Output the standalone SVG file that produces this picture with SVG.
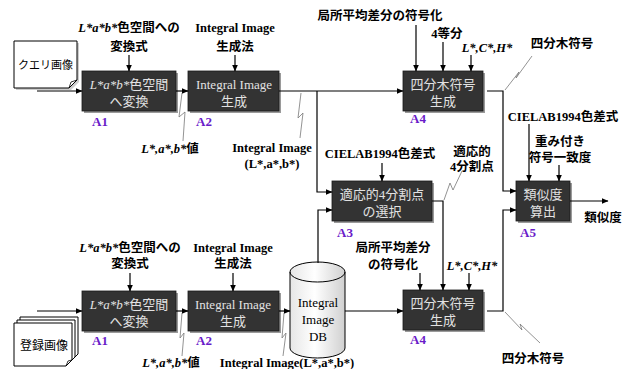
<svg xmlns="http://www.w3.org/2000/svg" width="631" height="369" viewBox="0 0 631 369">
<defs>
<marker id="ah" markerWidth="7" markerHeight="6" refX="6.5" refY="3" orient="auto" markerUnits="userSpaceOnUse">
<path d="M0,0 L7,3 L0,6 Z" fill="#000"/>
</marker>
<linearGradient id="cyl" x1="0" y1="0" x2="1" y2="0">
<stop offset="0" stop-color="#e6e6e6"/>
<stop offset="0.45" stop-color="#ffffff"/>
<stop offset="1" stop-color="#d0d0d0"/>
</linearGradient>
</defs>
<style>
text{font-family:"Liberation Serif","Noto Sans CJK JP",serif;}
.lb{font-size:12.5px;font-weight:bold;fill:#000;text-anchor:middle;}
.bx{fill:#333;stroke:#1a1a1a;stroke-width:0.8;}
.sh{fill:#9a9a9a;}
.bt{font-size:13px;fill:#e2e2e2;text-anchor:middle;}
.id{font-size:13px;font-weight:bold;fill:#6a1bc9;}
.ln{fill:none;stroke:#000;stroke-width:1.2;}
.ar{fill:none;stroke:#000;stroke-width:1.2;marker-end:url(#ah);}
.zz{fill:none;stroke:#777;stroke-width:0.8;}
.doc{fill:#fff;stroke:#000;stroke-width:1;}
.dt{font-size:12px;fill:#000;text-anchor:middle;}
.it{font-style:italic;}
</style>

<g id="query-image">
<path class="sh" d="M16,43 H79 V82 L71,90 H16 Z" fill-opacity="0.5"/>
<path class="doc" d="M14,41 H77 V80 L69,88 H14 Z"/>
<path d="M69,88 L71,82 L77,80" fill="none" stroke="#000" stroke-width="0.8"/>
<text class="dt" x="45.5" y="69" style="font-size:11px">クエリ画像</text>
</g>

<g id="reg-image">
<path class="doc" d="M20,317 H78 V354 L72,360 H20 Z"/>
<path class="doc" d="M17,320 H75 V357 L69,363 H17 Z"/>
<path class="doc" d="M14,323 H72 V360 L66,366 H14 Z"/>
<path d="M66,366 L68,361 L72,360" fill="none" stroke="#000" stroke-width="0.8"/>
<text class="dt" x="44" y="350">登録画像</text>
</g>

<g id="A1-top">
<rect class="sh" x="84" y="73" width="94" height="40"/>
<rect class="bx" x="82" y="71" width="94" height="40"/>
<text class="bt" x="129" y="89"><tspan class="it">L*a*b*</tspan>色空間</text>
<text class="bt" x="129" y="106">へ変換</text>
<text class="id" x="92" y="126">A1</text>
</g>

<g id="A2-top">
<rect class="sh" x="190" y="73" width="91" height="40"/>
<rect class="bx" x="188" y="71" width="91" height="40"/>
<text class="bt" x="234" y="89">Integral Image</text>
<text class="bt" x="234" y="106">生成</text>
<text class="id" x="196" y="126">A2</text>
</g>

<g id="A4-top">
<rect class="sh" x="405" y="73" width="80" height="40"/>
<rect class="bx" x="403" y="71" width="80" height="40"/>
<text class="bt" x="443" y="89">四分木符号</text>
<text class="bt" x="443" y="106">生成</text>
<text class="id" x="410" y="123">A4</text>
</g>

<g id="A3">
<rect class="sh" x="334" y="183" width="100" height="40"/>
<rect class="bx" x="332" y="181" width="100" height="40"/>
<text class="bt" x="382" y="199">適応的4分割点</text>
<text class="bt" x="382" y="216">の選択</text>
<text class="id" x="337" y="237">A3</text>
</g>

<g id="A5">
<rect class="sh" x="518" y="183" width="54" height="40"/>
<rect class="bx" x="516" y="181" width="54" height="40"/>
<text class="bt" x="543" y="199">類似度</text>
<text class="bt" x="543" y="216">算出</text>
<text class="id" x="520" y="237">A5</text>
</g>

<g id="A1-bottom">
<rect class="sh" x="84" y="293" width="94" height="40"/>
<rect class="bx" x="82" y="291" width="94" height="40"/>
<text class="bt" x="129" y="309"><tspan class="it">L*a*b*</tspan>色空間</text>
<text class="bt" x="129" y="326">へ変換</text>
<text class="id" x="92" y="345">A1</text>
</g>

<g id="A2-bottom">
<rect class="sh" x="190" y="293" width="91" height="40"/>
<rect class="bx" x="188" y="291" width="91" height="40"/>
<text class="bt" x="233" y="309">Integral Image</text>
<text class="bt" x="233" y="326">生成</text>
<text class="id" x="196" y="345">A2</text>
</g>

<g id="A4-bottom">
<rect class="sh" x="405" y="292" width="80" height="40"/>
<rect class="bx" x="403" y="290" width="80" height="40"/>
<text class="bt" x="443" y="308">四分木符号</text>
<text class="bt" x="443" y="325">生成</text>
<text class="id" x="410" y="344">A4</text>
</g>

<g id="db">
<path d="M290,272 V348 A27.5,10 0 0 0 345,348 V272 A27.5,10 0 0 0 290,272 Z" fill="url(#cyl)" stroke="#000" stroke-width="1"/>
<path d="M290,272 A27.5,10 0 0 0 345,272" fill="none" stroke="#000" stroke-width="1"/>
<text class="dt" x="318" y="307" style="font-size:13px">Integral</text>
<text class="dt" x="318" y="324" style="font-size:13px">Image</text>
<text class="dt" x="318" y="341" style="font-size:13px">DB</text>
</g>

<g id="labels">
<text class="lb" x="129" y="32"><tspan class="it">L*a*b*</tspan>色空間への</text>
<text class="lb" x="129" y="51">変換式</text>
<text class="lb" x="235" y="32">Integral Image</text>
<text class="lb" x="235" y="51">生成法</text>
<text class="lb" x="380" y="20">局所平均差分の符号化</text>
<text class="lb" x="447" y="38">4等分</text>
<text class="lb it" x="487" y="52">L*,C*,H*</text>
<text class="lb" x="562" y="48">四分木符号</text>
<text class="lb" x="563" y="121">CIELAB1994色差式</text>
<text class="lb" x="560" y="146">重み付き</text>
<text class="lb" x="560" y="162">符号一致度</text>
<text class="lb" x="472" y="156">適応的</text>
<text class="lb" x="472" y="171">4分割点</text>
<text class="lb" x="380" y="158">CIELAB1994色差式</text>
<text class="lb" x="170" y="153"><tspan class="it">L*,a*,b*</tspan>値</text>
<text class="lb" x="272" y="152">Integral Image</text>
<text class="lb" x="272" y="168">(L*,a*,b*)</text>
<text class="lb" x="603" y="222">類似度</text>
<text class="lb" x="130" y="252"><tspan class="it">L*a*b*</tspan>色空間への</text>
<text class="lb" x="130" y="268">変換式</text>
<text class="lb" x="233" y="252">Integral Image</text>
<text class="lb" x="233" y="268">生成法</text>
<text class="lb" x="393" y="252">局所平均差分</text>
<text class="lb" x="393" y="269">の符号化</text>
<text class="lb it" x="472" y="270">L*,C*,H*</text>
<text class="lb" x="533" y="363">四分木符号</text>
<text class="lb" x="171" y="367"><tspan class="it">L*,a*,b*</tspan>値</text>
<text class="lb" x="287" y="367">Integral Image(L*,a*,b*)</text>
</g>

<g id="connectors">
<path class="ar" d="M37,91 H82"/>
<path class="ar" d="M176,91 H188"/>
<path class="ar" d="M279,91 H403"/>
<path class="ar" d="M317,91 V192 H332"/>
<path class="ar" d="M487,91 H503 V191 H516"/>
<path class="ar" d="M432,201 H443 V290"/>
<path class="ar" d="M570,201 H608"/>
<path class="ar" d="M37,311 H82"/>
<path class="ar" d="M176,311 H188"/>
<path class="ar" d="M279,311 H290"/>
<path class="ar" d="M345,311 H403"/>
<path class="ar" d="M318,263 V210 H332"/>
<path class="ar" d="M487,311 H503 V210 H516"/>
<path class="ar" d="M129,55 V71"/>
<path class="ar" d="M235,55 V71"/>
<path class="ar" d="M416,25 V71"/>
<path class="ar" d="M443,42 V71"/>
<path class="ar" d="M471,55 V71"/>
<path class="ar" d="M382,163 V181"/>
<path class="ar" d="M529,124 V181"/>
<path class="ar" d="M559,165 V181"/>
<path class="ar" d="M130,273 V291"/>
<path class="ar" d="M233,273 V291"/>
<path class="ar" d="M420,273 V290"/>
<path class="ar" d="M469,273 V290"/>
<polyline class="zz" points="182,93 179,117 185,112 183,141"/>
<polyline class="zz" points="301,93 298,118 303,113 300,138"/>
<polyline class="zz" points="444,200 450,183 453,190 462,171"/>
<polyline class="zz" points="505,90 519,72 516,78 532,56"/>
<polyline class="zz" points="505,312 522,330 520,324 540,343"/>
<polyline class="zz" points="182,313 180,338 184,333 182,356"/>
<polyline class="zz" points="284,313 282,338 286,333 283,356"/>
</g>
</svg>
